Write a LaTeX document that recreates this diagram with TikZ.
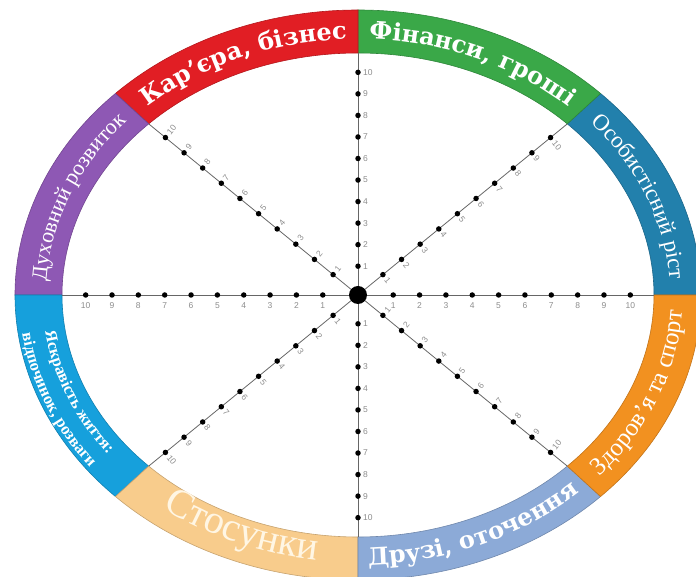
\documentclass[tikz,border=0pt]{standalone}
\usepackage{fontspec}
\setmainfont{Liberation Serif}
\newfontfamily\lblfont{Liberation Sans}
\newfontfamily\djsf{DejaVu Serif}
\usetikzlibrary{decorations.text}
\definecolor{cred}{RGB}{225,30,36}
\definecolor{cgreen}{RGB}{58,168,72}
\definecolor{cteal}{RGB}{34,128,172}
\definecolor{corange}{RGB}{242,145,32}
\definecolor{csteel}{RGB}{140,170,215}
\definecolor{cpeach}{RGB}{248,204,140}
\definecolor{cblue}{RGB}{22,160,220}
\definecolor{cpurple}{RGB}{142,88,180}
\definecolor{ctick}{RGB}{140,140,140}
\definecolor{ccream}{RGB}{255,246,228}
\begin{document}
\begin{tikzpicture}[x=1pt,y=1pt,
  axisline/.style={draw=black!60, line width=0.8pt},
  dotn/.style={circle, fill=black, inner sep=0pt, minimum size=5.5pt},
  bigdot/.style={circle, fill=black, inner sep=0pt, minimum size=18pt},
  lbl/.style={font=\lblfont\fontsize{8.5}{9}\selectfont, text=ctick, inner sep=1pt},
  ringseg/.style={line width=0.6pt}
]
\useasboundingbox (-358,-282) rectangle (338,295);
\clip (-358,-282) rectangle (338,295);
% ring segments
\foreach \ta/\tb/\col in {0/45/cteal,45/90/cgreen,90/135/cred,135/180/cpurple,180/225/cblue,225/270/cpeach,270/315/csteel,315/360/corange}{
  \filldraw[ringseg, fill=\col, draw=\col!80!black]
    (\ta:343pt and 285pt) arc[start angle=\ta, end angle=\tb, x radius=343pt, y radius=285pt]
    -- (\tb:296pt and 242pt) arc[start angle=\tb, end angle=\ta, x radius=296pt, y radius=242pt] -- cycle;
}
% ring texts
\path[decorate, decoration={text along path, text align=center, text color=white,
  text={|\djsf\bfseries\fontsize{24}{28}\selectfont|Кар’єра, бізнес}}]
  (135:310pt and 256pt) arc[start angle=135, end angle=90, x radius=310pt, y radius=256pt];
\path[decorate, decoration={text along path, text align=center, text color=white,
  text={|\djsf\bfseries\fontsize{24}{28}\selectfont|Фінанси, гроші}}]
  (90:310pt and 256pt) arc[start angle=90, end angle=45, x radius=310pt, y radius=256pt];
\path[decorate, decoration={text along path, text align=center, text color=white,
  text={|\fontsize{23}{26}\selectfont|Особистісний ріст}}]
  (45:312pt and 258pt) arc[start angle=45, end angle=0, x radius=312pt, y radius=258pt];
\path[decorate, decoration={text along path, text align=center, text color=white,
  text={|\fontsize{22}{26}\selectfont|Духовний розвиток}}]
  (180:312pt and 258pt) arc[start angle=180, end angle=135, x radius=312pt, y radius=258pt];
\path[decorate, decoration={text along path, text align=center, text color=white,
  text={|\bfseries\fontsize{16.5}{20}\selectfont|Яскравість життя:}}]
  (180:316pt and 261pt) arc[start angle=180, end angle=225, x radius=316pt, y radius=261pt];
\path[decorate, decoration={text along path, text align=center, text color=white,
  text={|\bfseries\fontsize{16.5}{20}\selectfont|відпочинок, розваги}}]
  (180:339pt and 282pt) arc[start angle=180, end angle=225, x radius=339pt, y radius=282pt];
\path[decorate, decoration={text along path, text align=center, text color=ccream,
  text={|\fontsize{40}{44}\selectfont|Стосунки}}]
  (225:324pt and 267pt) arc[start angle=225, end angle=270, x radius=324pt, y radius=267pt];
\path[decorate, decoration={text along path, text align=center, text color=white,
  text={|\djsf\bfseries\fontsize{24}{28}\selectfont|Друзі, оточення}}]
  (270:325pt and 270pt) arc[start angle=270, end angle=315, x radius=325pt, y radius=270pt];
\path[decorate, decoration={text along path, text align=center, text color=white,
  text={|\fontsize{25}{28}\selectfont|Здоров’я та спорт}}]
  (315:325pt and 271pt) arc[start angle=315, end angle=360, x radius=325pt, y radius=271pt];
% axes
\coordinate (c) at (0,0);
\foreach \t in {0,45,...,315}{
  \coordinate (e\t) at (\t:296pt and 242pt);
  \draw[axisline] (c) -- (e\t);
}
% dots
\foreach \t in {0,45,...,315}{
  \foreach \k in {1,...,10}{
    \pgfmathsetmacro{\f}{0.03+0.089*\k}
    \node[dotn] (d\t-\k) at ({\f*296*cos(\t)},{\f*242*sin(\t)}) {};
  }
}
% labels
\foreach \t in {0,180}{
  \foreach \k in {1,...,10}{
    \node[lbl, anchor=north] (l\t-\k) at ([yshift=-6pt]d\t-\k.center) {\k};
  }
}
\foreach \t/\s in {45/-90,90/-90,135/-90,225/90,270/90,315/90}{
  \pgfmathsetmacro{\ph}{atan2(242*sin(\t),296*cos(\t))}
  \pgfmathsetmacro{\rr}{\ph+\s}
  \foreach \k in {1,...,10}{
    \node[lbl, anchor=west, rotate=\rr] (l\t-\k) at ([shift={(\rr:4pt)}]d\t-\k.center) {\k};
  }
}
\node[bigdot] (cdot) at (c) {};
\end{tikzpicture}
\end{document}
